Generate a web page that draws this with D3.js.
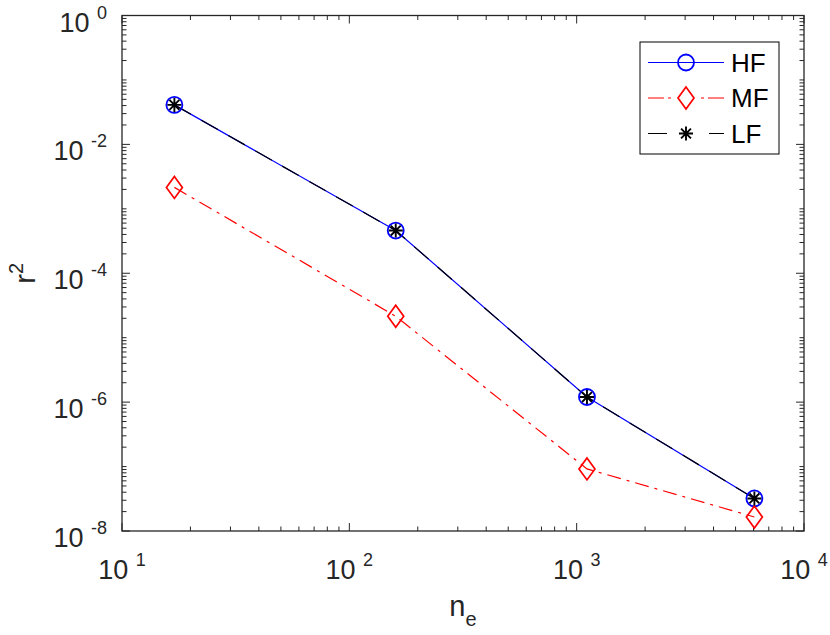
<!DOCTYPE html>
<html><head><meta charset="utf-8">
<script src="https://cdn.jsdelivr.net/npm/d3@7"></script>
<style>body{margin:0;background:#fff}svg{display:block}text{font-family:"Liberation Sans",Arial,sans-serif;fill:#262626}</style>
</head><body><div id="chart"></div>
<script>
// ---- data ----
const ne = [17, 160, 1110, 6050];
const hfValues = [0.041, 4.6e-4, 1.2e-6, 3.2e-8];
const mfValues = [2.15e-3, 2.15e-5, 9.2e-8, 1.65e-8];
const lfValues = [0.041, 4.6e-4, 1.2e-6, 3.2e-8];
const seriesNames = ["HF", "MF", "LF"];
const xTickExponents = [1, 2, 3, 4];
const yTickExponents = [0, -2, -4, -6, -8];
const xLabel = "n", xLabelSub = "e";
const yLabel = "r", yLabelSup = "2";

const W = 830, H = 635;
const m = {left: 122, right: 26, top: 15.5, bottom: 104};
const svg = d3.select("#chart").append("svg").attr("width", W).attr("height", H);
const x = d3.scaleLog().domain([10, 1e4]).range([m.left, W - m.right]);
const y = d3.scaleLog().domain([1e-8, 1]).range([H - m.bottom, m.top]);
const x0 = x.range()[0], x1 = x.range()[1], y0 = y.range()[0], y1 = y.range()[1];
const axisColor = "#262626";

// ticks
function minorTicks(lo, hi) {
  const out = [];
  for (let e = lo; e < hi; e++) for (let k = 1; k < 10; k++) out.push(k * Math.pow(10, e));
  out.push(Math.pow(10, hi));
  return out;
}
const gT = svg.append("g").attr("stroke", axisColor).attr("stroke-width", 1);
const xMajor = xTickExponents.map(e => Math.pow(10, e));
const yMajor = yTickExponents.map(e => Math.pow(10, e));
minorTicks(1, 4).forEach(v => {
  const len = xMajor.some(t => Math.abs(t - v) / v < 1e-9) ? 8 : 4.5;
  const px = x(v);
  gT.append("line").attr("x1", px).attr("x2", px).attr("y1", y0).attr("y2", y0 - len);
  gT.append("line").attr("x1", px).attr("x2", px).attr("y1", y1).attr("y2", y1 + len);
});
minorTicks(-8, 0).forEach(v => {
  const len = yMajor.some(t => Math.abs(t - v) / v < 1e-9) ? 8 : 4.5;
  const py = y(v);
  gT.append("line").attr("y1", py).attr("y2", py).attr("x1", x0).attr("x2", x0 + len);
  gT.append("line").attr("y1", py).attr("y2", py).attr("x1", x1).attr("x2", x1 - len);
});
svg.append("rect").attr("x", x0).attr("y", y1).attr("width", x1 - x0).attr("height", y0 - y1)
  .attr("fill", "none").attr("stroke", axisColor).attr("stroke-width", 1.3);

// tick labels
xTickExponents.forEach(e => {
  const t = svg.append("text").attr("x", x(Math.pow(10, e))).attr("y", y0 + 48)
    .attr("text-anchor", "middle").attr("font-size", 27);
  t.append("tspan").text("10 ");
  t.append("tspan").attr("font-size", 18).attr("dy", -13).text(e);
});
yTickExponents.forEach(e => {
  const t = svg.append("text").attr("x", x0 - 15).attr("y", y(Math.pow(10, e)) + 16)
    .attr("text-anchor", "end").attr("font-size", 27);
  t.append("tspan").text("10 ");
  t.append("tspan").attr("font-size", 18).attr("dy", -13).text(e);
});

// axis labels
const xl = svg.append("text").attr("x", (x0 + x1) / 2).attr("y", 616).attr("text-anchor", "middle").attr("font-size", 29);
xl.append("tspan").text(xLabel);
xl.append("tspan").attr("font-size", 20).attr("dy", 10).text(xLabelSub);
const yl = svg.append("text").attr("transform", `translate(35,${(y0 + y1) / 2}) rotate(-90)`)
  .attr("text-anchor", "middle").attr("font-size", 29);
yl.append("tspan").text(yLabel);
yl.append("tspan").attr("font-size", 20).attr("dy", -12).text(yLabelSup);

// series
const line = d3.line().x(d => x(d[0])).y(d => y(d[1]));
const hf = ne.map((v, i) => [v, hfValues[i]]);
const mf = ne.map((v, i) => [v, mfValues[i]]);
const lf = ne.map((v, i) => [v, lfValues[i]]);
const styles = {
  HF: {color: "#0000ff", dash: null},
  MF: {color: "#ff0000", dash: "14,6,3,6"},
  LF: {color: "#000000", dash: "19,12"}
};
svg.append("path").datum(hf).attr("d", line).attr("fill", "none").attr("stroke", styles.HF.color).attr("stroke-width", 1.2);
svg.append("path").datum(mf).attr("d", line).attr("fill", "none").attr("stroke", styles.MF.color).attr("stroke-width", 1.2).attr("stroke-dasharray", styles.MF.dash);
svg.append("path").datum(lf).attr("d", line).attr("fill", "none").attr("stroke", styles.LF.color).attr("stroke-width", 1.2).attr("stroke-dasharray", styles.LF.dash);

function circle(g, cx, cy) {
  g.append("circle").attr("cx", cx).attr("cy", cy).attr("r", 8).attr("fill", "none").attr("stroke", styles.HF.color).attr("stroke-width", 1.8);
}
function diamond(g, cx, cy) {
  g.append("path").attr("d", `M${cx},${cy - 11}L${cx + 8},${cy}L${cx},${cy + 11}L${cx - 8},${cy}Z`)
    .attr("fill", "none").attr("stroke", styles.MF.color).attr("stroke-width", 1.7);
}
function asterisk(g, cx, cy) {
  const r = 7, d = r * Math.SQRT1_2;
  g.append("path").attr("d", `M${cx - r},${cy}H${cx + r}M${cx},${cy - r}V${cy + r}M${cx - d},${cy - d}L${cx + d},${cy + d}M${cx - d},${cy + d}L${cx + d},${cy - d}`)
    .attr("stroke", styles.LF.color).attr("stroke-width", 1.9).attr("fill", "none");
}
const gm = svg.append("g");
hf.forEach(d => circle(gm, x(d[0]), y(d[1])));
mf.forEach(d => diamond(gm, x(d[0]), y(d[1])));
lf.forEach(d => asterisk(gm, x(d[0]), y(d[1])));

// legend
const lg = {x: 640, y: 42, w: 139, h: 112};
svg.append("rect").attr("x", lg.x).attr("y", lg.y).attr("width", lg.w).attr("height", lg.h)
  .attr("fill", "#fff").attr("stroke", "#000").attr("stroke-width", 1);
const rowY = i => lg.y + 20.5 + i * 35.5;
const lx0 = lg.x + 8, lx1 = lg.x + 84, lmx = lg.x + 46;
seriesNames.forEach((name, i) => {
  const yy = rowY(i), st = styles[name];
  if (name === "HF") {
    svg.append("line").attr("x1", lx0).attr("x2", lx1).attr("y1", yy).attr("y2", yy).attr("stroke", st.color).attr("stroke-width", 1.2);
    circle(svg, lmx, yy);
  } else if (name === "MF") {
    svg.append("line").attr("x1", lx0).attr("x2", lx1).attr("y1", yy).attr("y2", yy).attr("stroke", st.color).attr("stroke-width", 1.2).attr("stroke-dasharray", "16,4,3,30,3,4,16");
    diamond(svg, lmx, yy);
  } else {
    svg.append("line").attr("x1", lx0).attr("x2", lx1).attr("y1", yy).attr("y2", yy).attr("stroke", st.color).attr("stroke-width", 1.2).attr("stroke-dasharray", "19,42,19");
    asterisk(svg, lmx, yy);
  }
  svg.append("text").attr("x", lg.x + 91).attr("y", yy + 9).attr("font-size", 26).style("fill", "#000").text(name);
});
</script></body></html>
